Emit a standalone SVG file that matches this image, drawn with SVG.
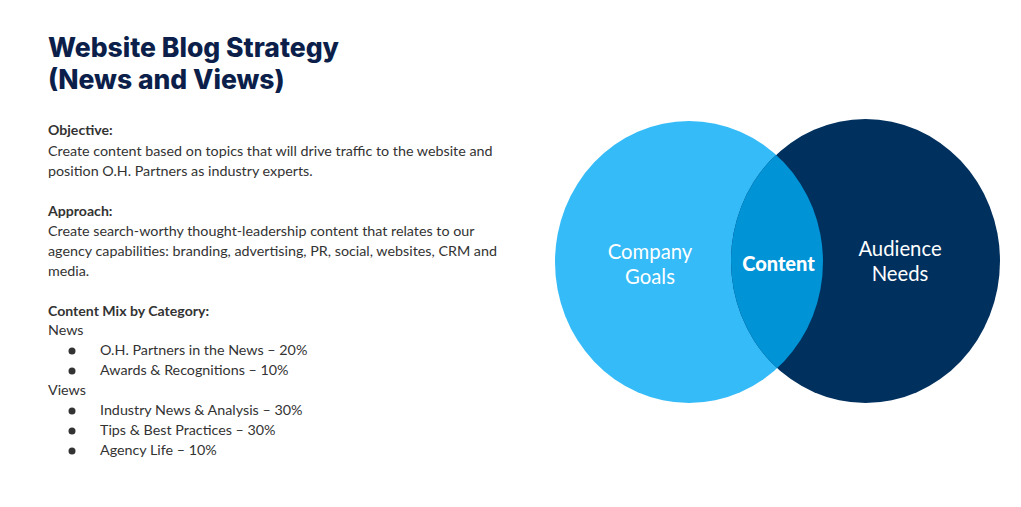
<svg xmlns="http://www.w3.org/2000/svg" width="1021" height="507" viewBox="0 0 1021 507">
<style>
.title{font-family:Inter,"Liberation Sans",sans-serif;font-weight:800;font-size:26.5px;fill:#0c1f4a}
.h{font-family:Lato,"Liberation Sans",sans-serif;font-weight:700;font-size:14.1px;fill:#333}
.b{font-family:Lato,"Liberation Sans",sans-serif;font-size:14.3px;fill:#333}
.v{font-family:Lato,"Liberation Sans",sans-serif;font-size:20.3px;fill:#fff;text-anchor:middle}
.vb{font-family:Lato,"Liberation Sans",sans-serif;font-weight:900;font-size:20px;fill:#fff;text-anchor:middle}
</style>
<rect width="1021" height="507" fill="#fff"/>
<g id="text-panel">
<text class="title" x="48" y="57">Website Blog Strategy</text>
<text class="title" x="48" y="89">(News and Views)</text>
<text class="h" x="48" y="135">Objective:</text>
<text class="b" x="48" y="156">Create content based on topics that will drive traffic to the website and</text>
<text class="b" x="48" y="176">position O.H. Partners as industry experts.</text>
<text class="h" x="48" y="216">Approach:</text>
<text class="b" x="48" y="236">Create search-worthy thought-leadership content that relates to our</text>
<text class="b" x="48" y="256">agency capabilities: branding, advertising, PR, social, websites, CRM and</text>
<text class="b" x="48" y="276">media.</text>
<text class="h" x="48" y="316">Content Mix by Category:</text>
<text class="b" x="48" y="335">News</text>
<circle cx="72" cy="351" r="3.5" fill="#333"/>
<text class="b" x="100" y="355">O.H. Partners in the News – 20%</text>
<circle cx="72" cy="371" r="3.5" fill="#333"/>
<text class="b" x="100" y="375">Awards &amp; Recognitions – 10%</text>
<text class="b" x="48" y="395">Views</text>
<circle cx="72" cy="411" r="3.5" fill="#333"/>
<text class="b" x="100" y="415">Industry News &amp; Analysis – 30%</text>
<circle cx="72" cy="431" r="3.5" fill="#333"/>
<text class="b" x="100" y="435">Tips &amp; Best Practices – 30%</text>
<circle cx="72" cy="451" r="3.5" fill="#333"/>
<text class="b" x="100" y="455">Agency Life – 10%</text>
</g>
<defs>
<clipPath id="lc"><ellipse cx="689" cy="262" rx="134" ry="141"/></clipPath>
</defs>
<g id="company-goals">
<ellipse cx="689" cy="262" rx="134" ry="141" fill="#35bbf7"/>
<text class="v" x="650" y="259">Company</text>
<text class="v" x="650" y="284">Goals</text>
</g>
<g id="audience-needs">
<ellipse cx="865.5" cy="261" rx="134.5" ry="142" fill="#00305e"/>
<text class="v" x="900" y="256">Audience</text>
<text class="v" x="900" y="281">Needs</text>
</g>
<g id="content">
<ellipse cx="865.5" cy="261" rx="134.5" ry="142" fill="#0093d6" clip-path="url(#lc)"/>
<text class="vb" x="778.5" y="271">Content</text>
</g>
<g id="connectors"/>
</svg>
